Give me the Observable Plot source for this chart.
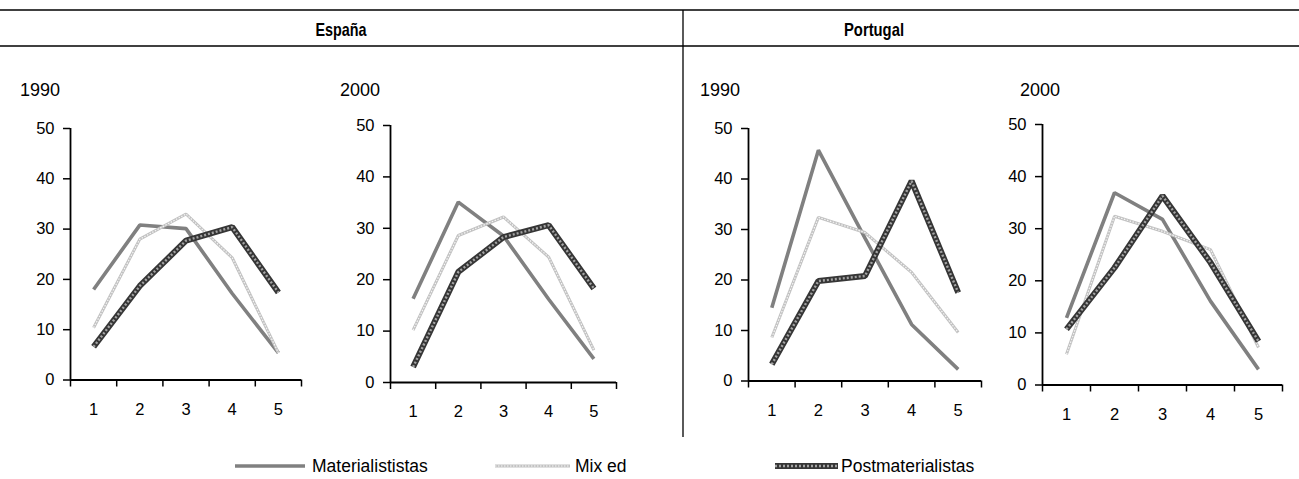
<!DOCTYPE html>
<html><head><meta charset="utf-8">
<script src="https://cdn.jsdelivr.net/npm/d3@7"></script>
<script src="https://cdn.jsdelivr.net/npm/@observablehq/plot@0.6"></script>
<style>
body{margin:0;background:#fff;}
#wrap{position:relative;width:1299px;height:479px;overflow:hidden;background:#fff;font-family:"Liberation Sans",Arial,sans-serif;}
#wrap > svg{position:absolute;}
#wrap svg.panel text{font-size:16.5px;font-family:"Liberation Sans",Arial,sans-serif;fill:#000;}
</style></head><body><div id="wrap"></div>
<script>
// ---------- data ----------
const categories = [1, 2, 3, 4, 5];
const xTickEdges = [0.5, 1.5, 2.5, 3.5, 4.5, 5.5];
const yTicks = [0, 10, 20, 30, 40, 50];
const countries = ["España", "Portugal"];
const years = ["1990", "2000"];
const seriesNames = ["Materialististas", "Mix ed", "Postmaterialistas"];

const espana1990Mat  = [18.0, 30.8, 30.1, 17.2, 5.4];
const espana1990Mix  = [10.4, 28.0, 33.0, 24.3, 5.4];
const espana1990Post = [6.6, 18.7, 27.7, 30.4, 17.4];

const espana2000Mat  = [16.3, 35.1, 28.5, 16.2, 4.6];
const espana2000Mix  = [10.2, 28.6, 32.2, 24.4, 6.3];
const espana2000Post = [3.0, 21.5, 28.3, 30.6, 18.3];

const portugal1990Mat  = [14.5, 45.7, 28.3, 11.2, 2.3];
const portugal1990Mix  = [8.6, 32.4, 29.4, 21.5, 9.6];
const portugal1990Post = [3.3, 19.8, 20.8, 39.6, 17.5];

const portugal2000Mat  = [12.9, 36.9, 31.8, 16.1, 3.0];
const portugal2000Mix  = [5.9, 32.4, 29.5, 26.0, 7.2];
const portugal2000Post = [10.7, 22.5, 36.3, 23.5, 8.4];

// ---------- layout ----------
const FONT = "Liberation Sans, Arial, sans-serif";
const wrap = document.getElementById("wrap");

const panels = [
  {values: [espana1990Mat, espana1990Mix, espana1990Post], ax: 70, rx: 301, ty: 127.5, by: 379, yearX: 20, year: years[0]},
  {values: [espana2000Mat, espana2000Mix, espana2000Post], ax: 390, rx: 616, ty: 125, by: 382, yearX: 340, year: years[1]},
  {values: [portugal1990Mat, portugal1990Mix, portugal1990Post], ax: 748, rx: 981, ty: 127.5, by: 380, yearX: 700, year: years[0]},
  {values: [portugal2000Mat, portugal2000Mix, portugal2000Post], ax: 1042, rx: 1282, ty: 123.5, by: 384, yearX: 1020, year: years[1]}
];

// background svg: frame lines, headers, year labels, legend
const bg = d3.create("svg").attr("width", 1299).attr("height", 479)
  .style("left", "0px").style("top", "0px").attr("font-family", FONT);
bg.append("line").attr("x1", 0).attr("x2", 1299).attr("y1", 10).attr("y2", 10).attr("stroke", "#000").attr("stroke-width", 1.3);
bg.append("line").attr("x1", 0).attr("x2", 1299).attr("y1", 46).attr("y2", 46).attr("stroke", "#000").attr("stroke-width", 1.3);
bg.append("line").attr("x1", 683).attr("x2", 683).attr("y1", 10).attr("y2", 437).attr("stroke", "#000").attr("stroke-width", 1.3);
[[341, countries[0], 51], [874, countries[1], 60]].forEach(([x, t, len]) => {
  bg.append("text").attr("x", x).attr("y", 36).attr("text-anchor", "middle")
    .attr("font-size", 18.5).attr("font-weight", "bold")
    .attr("textLength", len).attr("lengthAdjust", "spacingAndGlyphs").text(t);
});
panels.forEach(p => {
  bg.append("text").attr("x", p.yearX).attr("y", 96).attr("font-size", 18).text(p.year);
});

// legend
const legend = [
  {x1: 235, x2: 305, tx: 312, name: seriesNames[0], kind: 0},
  {x1: 495, x2: 570, tx: 575, name: seriesNames[1], kind: 1},
  {x1: 775, x2: 838, tx: 841, name: seriesNames[2], kind: 2}
];
const styles = [
  [{stroke: "#808080", w: 3.6}],
  [{stroke: "#c2c2c2", w: 3}, {stroke: "#f6f6f6", w: 1.2, dash: "1.5,1.5"}],
  [{stroke: "#363636", w: 6}, {stroke: "#a4a4a4", w: 2.4, dash: "2,2"}]
];
legend.forEach(l => {
  styles[l.kind].forEach(s => {
    bg.append("line").attr("x1", l.x1).attr("x2", l.x2).attr("y1", 466).attr("y2", 466)
      .attr("stroke", s.stroke).attr("stroke-width", s.w).attr("stroke-dasharray", s.dash || null);
  });
  bg.append("text").attr("x", l.tx).attr("y", 472).attr("font-size", 17.5).text(l.name);
});
wrap.appendChild(bg.node());

// panels with Plot
const mL = 50, mR = 14, mT = 14, mB = 46;
panels.forEach(p => {
  const rows = [];
  seriesNames.forEach((s, i) => p.values[i].forEach((v, j) => rows.push({series: s, cat: categories[j], value: v})));
  const sub = s => rows.filter(d => d.series === s);
  const lineMarks = [];
  seriesNames.forEach((s, i) => {
    styles[i].forEach(st => {
      lineMarks.push(Plot.line(sub(s), {
        x: "cat", y: "value", stroke: st.stroke, strokeWidth: st.w,
        strokeDasharray: st.dash, strokeLinejoin: "miter", strokeLinecap: "butt"
      }));
    });
  });
  const h = Math.round(mT + (p.by - p.ty) + mB);
  const svg = Plot.plot({
    width: mL + (p.rx - p.ax) + mR,
    height: h,
    marginLeft: mL, marginRight: mR, marginTop: mT,
    marginBottom: h - mT - (p.by - p.ty),
    style: {fontFamily: FONT, fontSize: "16.5px", color: "#000", background: "transparent", overflow: "visible"},
    x: {type: "linear", domain: [0.5, 5.5], label: null},
    y: {type: "linear", domain: [0, 50], label: null},
    marks: [
      Plot.axisY(yTicks, {tickSize: 7, tickPadding: 9, strokeWidth: 1.5}),
      Plot.axisX(xTickEdges, {tickSize: 7, tickFormat: () => "", strokeWidth: 1.5}),
      Plot.axisX(categories, {tickSize: 0, tickPadding: 23}),
      Plot.ruleX([0.5], {y1: 0, y2: 50, stroke: "#000", strokeWidth: 1.8}),
      Plot.ruleY([0], {x1: 0.5, x2: 5.5, stroke: "#000", strokeWidth: 1.8}),
      ...lineMarks
    ]
  });
  svg.classList.add("panel");
  svg.style.left = (p.ax - mL) + "px";
  svg.style.top = (p.ty - mT) + "px";
  wrap.appendChild(svg);
});
</script>
</body></html>
